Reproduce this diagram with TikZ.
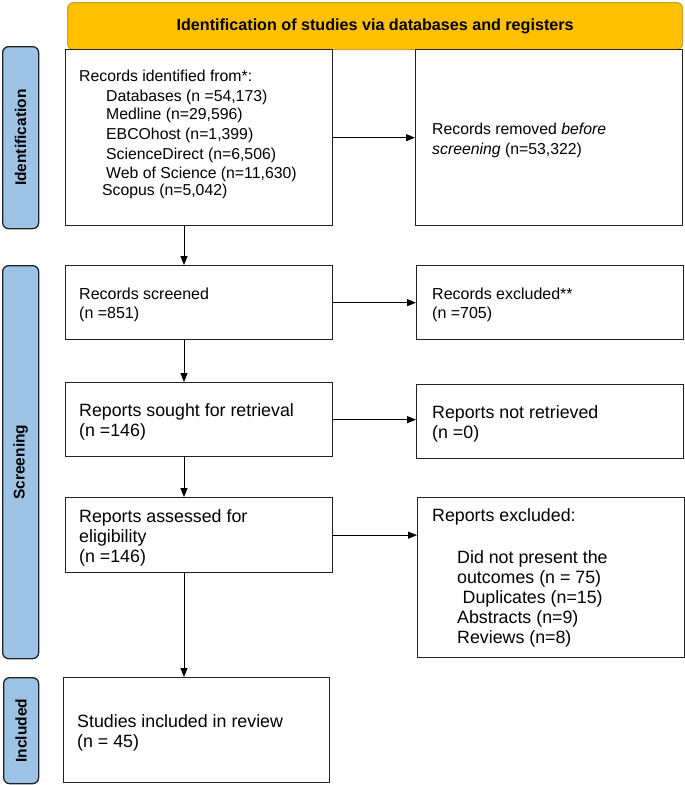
\documentclass[tikz,border=0pt]{standalone}
\usepackage{fontspec}
\setmainfont{Liberation Sans}
\usetikzlibrary{arrows.meta}
\definecolor{bannerfill}{HTML}{FFC000}
\definecolor{bannerline}{HTML}{C9A227}
\definecolor{stagefill}{HTML}{9DC3E6}
\definecolor{boxline}{HTML}{222222}
\tikzset{
  box/.style={draw=boxline, line width=1.3pt, fill=white, anchor=north west, inner sep=0pt},
  stage/.style={draw=boxline, line width=1.3pt, fill=stagefill, rounded corners=6pt, anchor=north west, inner sep=0pt},
  stagetxt/.style={rotate=90, font=\fontsize{15.5}{18}\selectfont\bfseries},
  txt/.style={anchor=base west, inner sep=0pt},
  arr/.style={draw=black, line width=0.9pt, -{Triangle[length=9pt,width=7pt]}},
}
\newcommand{\fs}[1]{\fontsize{#1}{20}\selectfont}
\begin{document}
\begin{tikzpicture}[x=1pt,y=-1pt]
\useasboundingbox (0,0) rectangle (685,785);
% banner
\node[draw=bannerline, line width=1.2pt, fill=bannerfill, rounded corners=6pt, minimum width=615pt, minimum height=47pt, anchor=north west, inner sep=0pt] (banner) at (67,2) {};
\node[font=\fontsize{16}{18}\selectfont\bfseries] (bannertxt) at (banner.center) {\resizebox{397pt}{!}{Identification of studies via databases and registers}};
% stage labels
\node[stage, minimum width=36pt, minimum height=182pt] (sid) at (2,46) {};
\node[stagetxt] (sidt) at (sid.center) {Identification};
\node[stage, minimum width=36pt, minimum height=393pt] (sscr) at (2,265) {};
\node[stagetxt] (sscrt) at (sscr.center) {Screening};
\node[stage, minimum width=35pt, minimum height=106pt] (sinc) at (3,677) {};
\node[stagetxt] (sinct) at (sinc.center) {Included};
% boxes
\node[box, minimum width=267pt, minimum height=176pt] (b1) at (65,49) {};
\node[box, minimum width=267pt, minimum height=176pt] (b2) at (415,49) {};
\node[box, minimum width=267pt, minimum height=74pt] (b3) at (65,265) {};
\node[box, minimum width=267pt, minimum height=74pt] (b4) at (416,265) {};
\node[box, minimum width=267pt, minimum height=74pt] (b5) at (65,382) {};
\node[box, minimum width=267pt, minimum height=74pt] (b6) at (416,384) {};
\node[box, minimum width=267pt, minimum height=75pt] (b7) at (65,497) {};
\node[box, minimum width=267pt, minimum height=160pt] (b8) at (417,497) {};
\node[box, minimum width=266pt, minimum height=105pt] (b9) at (63,677) {};
% texts
\node[txt] (t1) at (79,81.5) {\fs{15.8}\begin{tabular}[t]{@{}l@{}}
Records identified from*:\\[-0.5pt]
\hspace{27pt}Databases (n =54,173)\\[-2pt]
\hspace{27pt}Medline (n=29,596)\\
\hspace{27pt}EBCOhost (n=1,399)\\
\hspace{27pt}ScienceDirect (n=6,506)\\[-1pt]
\hspace{27pt}Web of Science (n=11,630)\\[-3pt]
\hspace{23pt}Scopus (n=5,042)
\end{tabular}};
\node[txt] (t2) at (432,134.5) {\fs{15.8}\begin{tabular}[t]{@{}l@{}}
Records removed \emph{before}\\
\emph{screening} (n=53,322)
\end{tabular}};
\node[txt] (t3) at (79,299.5) {\fs{16}\begin{tabular}[t]{@{}l@{}}
Records screened\\[-1pt]
(n =851)
\end{tabular}};
\node[txt] (t4) at (432,299.5) {\fs{16}\begin{tabular}[t]{@{}l@{}}
Records excluded**\\[-1pt]
(n =705)
\end{tabular}};
\node[txt] (t5) at (79,416) {\fs{17.8}\begin{tabular}[t]{@{}l@{}}
Reports sought for retrieval\\
(n =146)
\end{tabular}};
\node[txt] (t6) at (432,418) {\fs{17.8}\begin{tabular}[t]{@{}l@{}}
Reports not retrieved\\
(n =0)
\end{tabular}};
\node[txt] (t7) at (79,522) {\fs{17.8}\begin{tabular}[t]{@{}l@{}}
Reports assessed for\\
eligibility\\[0.5pt]
(n =146)
\end{tabular}};
\node[txt] (t8a) at (432,521) {\fs{17.8}Reports excluded:};
\node[txt] (t8) at (457,563) {\fs{17.8}\begin{tabular}[t]{@{}l@{}}
Did not present the\\
outcomes (n = 75)\\[0.5pt]
\hspace{5.5pt}Duplicates (n=15)\\
Abstracts (n=9)\\
Reviews (n=8)
\end{tabular}};
\node[txt] (t9) at (77,727) {\fs{17.8}\begin{tabular}[t]{@{}l@{}}
Studies included in review\\
(n = 45)
\end{tabular}};
% connectors
\coordinate (colx) at (184,0);
\draw[arr] (b1.east) -- (b2.west);
\draw[arr] (b3.east) -- (b4.west);
\draw[arr] (b5.east) -- (b6.west |- b5.east);
\draw[arr] (b7.east) -- (b8.west |- b7.east);
\draw[arr] (b1.south -| colx) -- (b3.north -| colx);
\draw[arr] (b3.south -| colx) -- (b5.north -| colx);
\draw[arr] (b5.south -| colx) -- (b7.north -| colx);
\draw[arr] (b7.south -| colx) -- (b9.north -| colx);
\end{tikzpicture}
\end{document}
